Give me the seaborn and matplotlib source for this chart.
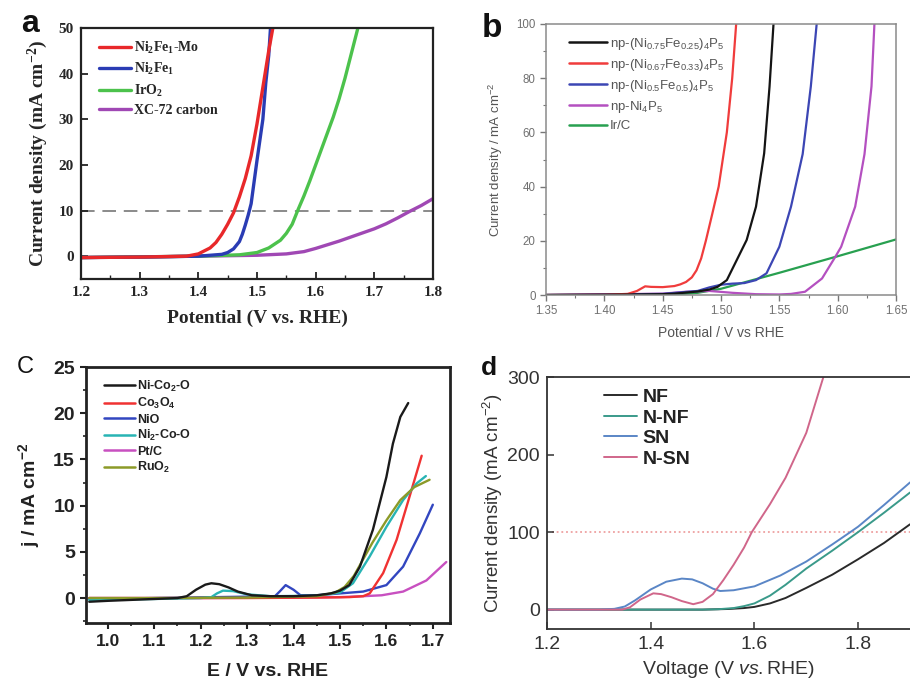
import numpy as np
import pandas as pd
import matplotlib
matplotlib.use("Agg")
import matplotlib.pyplot as plt
from matplotlib.ticker import MultipleLocator
from matplotlib.lines import Line2D
import seaborn as sns

# ---------------- data: panel a ----------------
a_names = ["Ni$_2$Fe$_1$-Mo", "Ni$_2$Fe$_1$", "IrO$_2$", "XC-72 carbon"]
a_x_mo = [1.20, 1.30, 1.38, 1.40, 1.42, 1.43, 1.44, 1.45, 1.46, 1.47, 1.48, 1.49, 1.50, 1.51, 1.52, 1.527]
a_y_mo = [-0.3, -0.2, 0.0, 0.5, 1.8, 3.0, 4.8, 7.0, 9.5, 13, 17, 22, 29, 37, 45, 50]
a_x_nife = [1.20, 1.30, 1.40, 1.44, 1.45, 1.46, 1.47, 1.475, 1.48, 1.485, 1.49, 1.50, 1.51, 1.515, 1.52, 1.523]
a_y_nife = [-0.3, -0.2, 0.0, 0.4, 0.8, 1.6, 3.2, 4.8, 6.8, 9.0, 11.5, 21, 30, 38, 44, 50]
a_x_iro2 = [1.20, 1.40, 1.47, 1.50, 1.52, 1.54, 1.55, 1.56, 1.57, 1.58, 1.59, 1.60, 1.61, 1.62, 1.63, 1.64, 1.65, 1.66, 1.672]
a_y_iro2 = [-0.3, 0.0, 0.3, 0.8, 1.8, 3.5, 5.0, 7.0, 10.2, 13.2, 16.5, 20, 23.5, 27, 30.5, 34.5, 39, 44, 50]
a_x_xc = [1.20, 1.40, 1.50, 1.55, 1.58, 1.60, 1.62, 1.64, 1.66, 1.68, 1.70, 1.72, 1.74, 1.76, 1.78, 1.80]
a_y_xc = [-0.3, 0.0, 0.2, 0.5, 1.0, 1.7, 2.5, 3.3, 4.2, 5.1, 6.0, 7.1, 8.4, 9.8, 11.1, 12.6]
a_ref = 10

# ---------------- data: panel b ----------------
b_names = ["np-(Ni$_{0.75}$Fe$_{0.25}$)$_4$P$_5$", "np-(Ni$_{0.67}$Fe$_{0.33}$)$_4$P$_5$",
           "np-(Ni$_{0.5}$Fe$_{0.5}$)$_4$P$_5$", "np-Ni$_4$P$_5$", "Ir/C"]
b_x_075 = [1.35, 1.40, 1.45, 1.46, 1.48, 1.49, 1.497, 1.505, 1.5135, 1.522, 1.530, 1.537, 1.5416, 1.545]
b_y_075 = [0.0, 0.1, 0.3, 0.5, 1.3, 2.0, 3.0, 5.5, 12.9, 20.3, 32.6, 52.3, 76.9, 100]
b_x_067 = [1.35, 1.40, 1.42, 1.428, 1.435, 1.44, 1.45, 1.46, 1.465, 1.47, 1.475, 1.479, 1.483, 1.487, 1.492, 1.498, 1.505, 1.5096, 1.513]
b_y_067 = [0.0, 0.1, 0.4, 1.5, 3.2, 3.0, 2.9, 3.3, 3.9, 4.8, 6.5, 9.1, 13.5, 20, 29, 40, 60, 80, 100]
b_x_05 = [1.35, 1.45, 1.48, 1.49, 1.50, 1.51, 1.52, 1.53, 1.539, 1.55, 1.56, 1.57, 1.577, 1.582]
b_y_05 = [0.0, 0.4, 1.5, 2.8, 3.8, 4.2, 4.4, 5.5, 8.0, 17.8, 32.6, 52, 77, 100]
b_x_ni = [1.35, 1.45, 1.47, 1.49, 1.51, 1.53, 1.55, 1.56, 1.572, 1.5866, 1.598, 1.603, 1.615, 1.623, 1.629, 1.6315]
b_y_ni = [0.0, 0.5, 1.2, 1.5, 0.8, 0.3, 0.2, 0.4, 1.2, 6.1, 14.1, 17.8, 32.6, 52, 77, 100]
b_x_irc = [1.35, 1.46, 1.48, 1.50, 1.55, 1.60, 1.65]
b_y_irc = [0.0, 0.2, 0.8, 2.3, 8.2, 14.3, 20.5]
b_ticks = ["1.35", "1.40", "1.45", "1.50", "1.55", "1.60", "1.65"]

# ---------------- data: panel c ----------------
c_names = ["Ni-Co$_2$-O", "Co$_3$O$_4$", "NiO", "Ni$_2$-Co-O", "Pt/C", "RuO$_2$"]
c_x_nico = [0.96, 1.00, 1.05, 1.10, 1.15, 1.17, 1.19, 1.21, 1.223, 1.24, 1.26, 1.28, 1.31, 1.35, 1.40, 1.45, 1.48, 1.50, 1.52, 1.543, 1.571, 1.60, 1.614, 1.63, 1.647]
c_y_nico = [-0.4, -0.3, -0.2, -0.1, 0.0, 0.2, 0.9, 1.45, 1.6, 1.5, 1.15, 0.7, 0.3, 0.2, 0.2, 0.3, 0.5, 0.8, 1.4, 3.4, 7.4, 13.1, 16.7, 19.6, 21.1]
c_x_co3o4 = [0.96, 1.10, 1.30, 1.45, 1.52, 1.55, 1.564, 1.593, 1.622, 1.65, 1.676]
c_y_co3o4 = [0.0, 0.0, 0.0, 0.05, 0.1, 0.2, 0.5, 2.7, 6.3, 11.0, 15.4]
c_x_nio = [0.96, 1.10, 1.30, 1.36, 1.37, 1.383, 1.40, 1.415, 1.45, 1.50, 1.55, 1.60, 1.636, 1.672, 1.70]
c_y_nio = [-0.1, 0.0, 0.15, 0.2, 0.7, 1.4, 0.9, 0.3, 0.3, 0.5, 0.7, 1.4, 3.4, 7.0, 10.1]
c_x_ni2co = [0.96, 1.10, 1.20, 1.223, 1.235, 1.248, 1.27, 1.30, 1.35, 1.45, 1.50, 1.528, 1.564, 1.60, 1.636, 1.665, 1.685]
c_y_ni2co = [-0.2, -0.1, 0.0, 0.1, 0.5, 0.8, 0.75, 0.4, 0.2, 0.25, 0.6, 1.6, 4.5, 7.7, 10.6, 12.4, 13.2]
c_x_ptc = [0.96, 1.20, 1.40, 1.50, 1.55, 1.59, 1.636, 1.686, 1.729]
c_y_ptc = [0.0, 0.0, 0.05, 0.1, 0.2, 0.3, 0.7, 1.9, 3.9]
c_x_ruo2 = [0.96, 1.10, 1.30, 1.45, 1.49, 1.51, 1.53, 1.55, 1.57, 1.60, 1.63, 1.66, 1.693]
c_y_ruo2 = [0.0, 0.0, 0.05, 0.2, 0.6, 1.2, 2.4, 4.2, 6.0, 8.4, 10.6, 12.0, 12.8]

# ---------------- data: panel d ----------------
d_names = ["NF", "N-NF", "SN", "N-SN"]
d_x_nf = [1.20, 1.40, 1.50, 1.55, 1.58, 1.60, 1.63, 1.66, 1.70, 1.75, 1.80, 1.85, 1.90]
d_y_nf = [0, 0, 0, 0.8, 2, 3.5, 8, 15, 28, 45, 65, 86, 110]
d_x_nnf = [1.20, 1.40, 1.50, 1.53, 1.56, 1.58, 1.60, 1.63, 1.66, 1.70, 1.75, 1.80, 1.85, 1.90]
d_y_nnf = [0, 0, 0, 0.5, 2, 4.5, 8, 18, 32, 53, 76, 100, 125, 151]
d_x_sn = [1.20, 1.30, 1.33, 1.35, 1.37, 1.40, 1.43, 1.46, 1.48, 1.50, 1.52, 1.534, 1.56, 1.60, 1.65, 1.70, 1.75, 1.785, 1.80, 1.85, 1.90]
d_y_sn = [0, 0, 1, 4, 12, 26, 36, 40, 39, 34, 27, 24, 25, 30, 44, 62, 84, 100, 107, 135, 164]
d_x_nsn = [1.20, 1.345, 1.36, 1.38, 1.405, 1.42, 1.44, 1.46, 1.482, 1.50, 1.52, 1.54, 1.56, 1.58, 1.595, 1.63, 1.66, 1.70, 1.733]
d_y_nsn = [0, 0, 3, 13, 21, 20, 16, 11, 7, 10, 20, 38, 58, 80, 100, 136, 170, 228, 300]
d_ref = 100


def long_df(names, xs, ys):
    frames = []
    for n, x, y in zip(names, xs, ys):
        frames.append(pd.DataFrame({"x": x, "y": y, "s": n}))
    return pd.concat(frames, ignore_index=True)


sns.set_theme(style="ticks")
plt.rcParams["font.family"] = ["Liberation Sans", "DejaVu Sans"]
plt.rcParams["mathtext.fontset"] = "custom"
plt.rcParams["mathtext.rm"] = "Liberation Sans"
plt.rcParams["mathtext.it"] = "Liberation Sans:italic"
plt.rcParams["mathtext.bf"] = "Liberation Sans:bold"
plt.rcParams["mathtext.default"] = "regular"

fig = plt.figure(figsize=(9.1, 6.83), dpi=100)
W, H = 910, 683


def add_ax(l, t, r, b):
    return fig.add_axes([l / W, 1 - b / H, (r - l) / W, (b - t) / H])


# ======================= panel a =======================
axa = add_ax(81, 28, 433, 279)
pal_a = dict(zip(a_names, ["#e8282a", "#2a3cb4", "#4cc24c", "#a048b4"]))
dfa = long_df(a_names, [a_x_mo, a_x_nife, a_x_iro2, a_x_xc], [a_y_mo, a_y_nife, a_y_iro2, a_y_xc])
sns.lineplot(data=dfa, x="x", y="y", hue="s", hue_order=a_names[::-1], palette=pal_a,
             estimator=None, sort=False, linewidth=2.4, legend=False, ax=axa)
axa.axhline(a_ref, color="#8a8a8a", lw=1.4, dashes=(7, 4), zorder=0)
axa.set_xlim(1.2, 1.8)
axa.set_ylim(-5, 50)
axa.set_xticks(np.arange(1.2, 1.81, 0.1))
axa.set_yticks(np.arange(0, 51, 10))
axa.xaxis.set_minor_locator(MultipleLocator(0.05))
serif_b = dict(family=["Liberation Serif", "DejaVu Serif"], weight="bold")
axa.set_xlabel("Potential (V vs. RHE)", fontsize=14, labelpad=8, **serif_b)
axa.set_ylabel("Current density (mA cm$^{-2}$)", fontsize=14, labelpad=6, **serif_b)
for t in axa.get_xticklabels() + axa.get_yticklabels():
    t.set_fontfamily(["Liberation Serif", "DejaVu Serif"])
    t.set_fontweight("bold")
    t.set_fontsize(11)
axa.tick_params(which="both", direction="in", color="#222222")
axa.tick_params(which="major", length=5, width=1.3, pad=5)
axa.tick_params(which="minor", length=3, width=1.0)
for s in axa.spines.values():
    s.set_linewidth(1.6)
    s.set_color("#222222")
la = [Line2D([], [], color=pal_a[n], lw=2.4) for n in a_names]
axa.legend(la, a_names, loc="upper left", bbox_to_anchor=(0.035, 0.975), frameon=False,
           handlelength=2.3, handletextpad=0.2, labelspacing=0.38, borderaxespad=0,
           prop=dict(family=["Liberation Serif", "DejaVu Serif"], weight="bold", size=10))

# ======================= panel b =======================
axb = add_ax(546, 24, 896, 295)
pal_b = dict(zip(b_names, ["#141414", "#f03c3c", "#3c46b4", "#b450c0", "#28a050"]))
dfb = long_df(b_names, [b_x_075, b_x_067, b_x_05, b_x_ni, b_x_irc], [b_y_075, b_y_067, b_y_05, b_y_ni, b_y_irc])
sns.lineplot(data=dfb, x="x", y="y", hue="s", hue_order=b_names[::-1], palette=pal_b,
             estimator=None, sort=False, linewidth=1.6, legend=False, ax=axb)
axb.set_xlim(1.35, 1.65)
axb.set_ylim(0, 100)
axb.set_xticks([float(v) for v in b_ticks])
axb.set_xticklabels(b_ticks)
axb.set_yticks(np.arange(0, 101, 20))
axb.xaxis.set_minor_locator(MultipleLocator(0.025))
axb.yaxis.set_minor_locator(MultipleLocator(10))
axb.set_xlabel("Potential / V vs RHE", fontsize=10, color="#555555", labelpad=6)
axb.set_ylabel("Current density / mA cm$^{-2}$", fontsize=9.5, color="#555555", labelpad=8)
axb.tick_params(which="both", direction="out", color="#777777", labelcolor="#707070", labelsize=8.3)
axb.tick_params(which="major", length=4, width=1.0)
axb.tick_params(which="minor", length=2.5, width=0.8)
for s in axb.spines.values():
    s.set_linewidth(1.1)
    s.set_color("#8a8a8a")
lb = [Line2D([], [], color=pal_b[n], lw=1.8) for n in b_names]
axb.legend(lb, b_names, loc="upper left", bbox_to_anchor=(0.05, 0.975), frameon=False,
           handlelength=2.9, handletextpad=0.2, labelspacing=0.38, borderaxespad=0,
           prop=dict(size=9.5), labelcolor="#555555")

# ======================= panel c =======================
axc = add_ax(86, 367, 450, 623)
pal_c = dict(zip(c_names, ["#1a1a1a", "#f03232", "#3246c0", "#28b4b4", "#c850c0", "#8c9a28"]))
dfc = long_df(c_names, [c_x_nico, c_x_co3o4, c_x_nio, c_x_ni2co, c_x_ptc, c_x_ruo2],
              [c_y_nico, c_y_co3o4, c_y_nio, c_y_ni2co, c_y_ptc, c_y_ruo2])
order_c = [c_names[4], c_names[2], c_names[1], c_names[3], c_names[5], c_names[0]]
sns.lineplot(data=dfc, x="x", y="y", hue="s", hue_order=order_c, palette=pal_c,
             estimator=None, sort=False, linewidth=1.7, legend=False, ax=axc)
axc.set_xlim(0.953, 1.737)
axc.set_ylim(-2.7, 25)
axc.set_xticks(np.round(np.arange(1.0, 1.71, 0.1), 1))
axc.set_yticks(np.arange(0, 26, 5))
axc.xaxis.set_minor_locator(MultipleLocator(0.05))
axc.yaxis.set_minor_locator(MultipleLocator(2.5))
axc.set_xlabel("E / V vs. RHE", fontsize=14, fontweight="bold", labelpad=10, color="#222222")
axc.set_ylabel("j / mA cm$^{-2}$", fontsize=14, fontweight="bold", labelpad=8, color="#222222")
axc.tick_params(which="both", direction="out", color="#222222", labelcolor="#222222")
axc.tick_params(which="major", length=4, width=1.5, pad=4)
axc.tick_params(which="minor", length=2.5, width=1.2)
for t in axc.get_xticklabels():
    t.set_fontweight("bold"); t.set_fontsize(12.5)
for t in axc.get_yticklabels():
    t.set_fontweight("bold"); t.set_fontsize(14)
for s in axc.spines.values():
    s.set_linewidth(2.0)
    s.set_color("#222222")
lc = [Line2D([], [], color=pal_c[n], lw=1.8) for n in c_names]
axc.legend(lc, c_names, loc="upper left", bbox_to_anchor=(0.035, 0.975), frameon=False,
           handlelength=2.5, handletextpad=0.2, labelspacing=0.2, borderaxespad=0,
           prop=dict(size=9, weight="bold"), labelcolor="#222222")

# ======================= panel d =======================
axd = add_ax(547, 377, 910, 629)
pal_d = dict(zip(d_names, ["#2a2a2a", "#3a9a8a", "#5a86c6", "#d0668a"]))
dfd = long_df(d_names, [d_x_nf, d_x_nnf, d_x_sn, d_x_nsn], [d_y_nf, d_y_nnf, d_y_sn, d_y_nsn])
sns.lineplot(data=dfd, x="x", y="y", hue="s", hue_order=d_names, palette=pal_d,
             estimator=None, sort=False, linewidth=1.4, legend=False, ax=axd)
axd.plot([1.21, 1.9], [d_ref, d_ref], color="#eea0a0", lw=1.3, ls=(0, (1, 1.6)), zorder=0)
axd.set_xlim(1.2, 1.9)
axd.set_ylim(-25, 300)
axd.set_xticks([1.2, 1.4, 1.6, 1.8])
axd.set_yticks([0, 100, 200, 300])
axd.set_xlabel("Voltage (V $\\mathit{vs.}$RHE)", fontsize=14, labelpad=4, color="#333333")
axd.set_ylabel("Current density (mA cm$^{-2}$)", fontsize=13.5, labelpad=2, color="#333333")
axd.tick_params(which="major", direction="in", length=5, width=1.1, color="#333333",
                labelcolor="#333333", labelsize=14, pad=5)
for s in axd.spines.values():
    s.set_linewidth(1.3)
    s.set_color("#333333")
axd.spines["right"].set_visible(False)
ld = [Line2D([], [], color=pal_d[n], lw=1.4) for n in d_names]
axd.legend(ld, d_names, loc="upper left", bbox_to_anchor=(0.135, 0.985), frameon=False,
           handlelength=1.7, handletextpad=0.3, labelspacing=0.15, borderaxespad=0,
           prop=dict(size=14, weight="bold"), labelcolor="#222222")

# ---------------- panel letters ----------------
fig.text(21 / W, 1 - 32 / H, "a", fontsize=23, fontweight="bold", va="baseline", color="#111111")
fig.text(482 / W, 1 - 37 / H, "b", fontsize=24, fontweight="bold", va="baseline", color="#111111")
fig.text(17 / W, 1 - 373 / H, "C", fontsize=17, va="baseline", color="#111111")
fig.text(481 / W, 1 - 375 / H, "d", fontsize=19, fontweight="bold", va="baseline", color="#111111")

fig.savefig("out.png", dpi=100)
